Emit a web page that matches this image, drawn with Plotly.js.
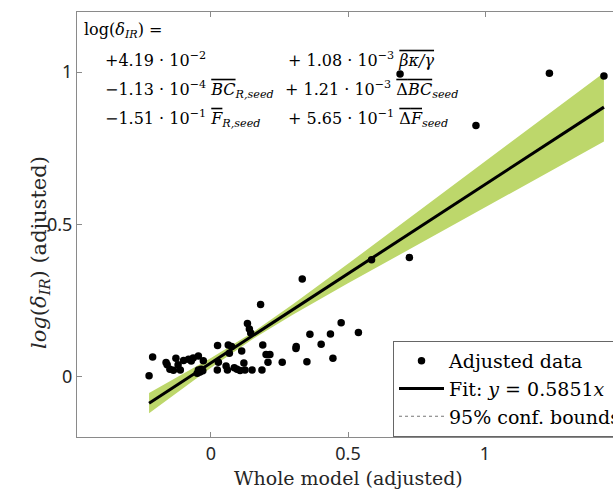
<!DOCTYPE html>
<html>
<head>
<meta charset="utf-8">
<script src="https://cdn.plot.ly/plotly-3.0.1.min.js"></script>
<style>
html,body{margin:0;padding:0;overflow:hidden;background:#fff;width:613px;height:495px;}
#chart{width:680px;height:495px;}
</style>
</head>
<body>
<div id="chart"></div>
<script>
// Adjusted data
const dataX = [-0.226,-0.213,-0.164,-0.160,-0.150,-0.137,-0.128,-0.120,-0.112,-0.100,-0.082,-0.072,-0.065,-0.046,-0.028,-0.046,-0.050,-0.040,-0.036,-0.030,
  0.024,0.027,0.023,0.055,0.060,0.063,0.075,0.067,0.085,0.095,0.106,0.112,0.120,0.124,0.133,0.140,0.145,0.150,0.181,0.189,0.186,0.201,0.215,0.208,
  0.260,0.310,0.311,0.333,0.350,0.361,0.402,0.436,0.445,0.475,0.538,0.586,0.724,0.690,0.967,1.235,1.434];
const dataY = [0.004,0.065,0.047,0.040,0.025,0.022,0.061,0.040,0.023,0.054,0.058,0.052,0.062,0.069,0.053,0.023,0.012,0.016,0.025,0.020,
  0.103,0.048,0.023,0.036,0.023,0.105,0.100,0.078,0.030,0.025,0.021,0.085,0.046,0.023,0.175,0.157,0.144,0.023,0.238,0.105,0.023,0.074,0.074,0.048,
  0.048,0.093,0.100,0.321,0.050,0.140,0.107,0.141,0.061,0.178,0.146,0.384,0.392,0.994,0.825,0.996,0.987];

// Fit line (end points)
const fitX = [-0.226, 1.434];
const fitY = [-0.086, 0.885];

// 95% confidence bounds
const bandX = [-0.226, 0, 0.15, 0.3, 0.5, 0.7, 0.9, 1.1, 1.3, 1.434];
const bandLow = [-0.119, 0.030, 0.123, 0.205, 0.307, 0.407, 0.507, 0.606, 0.705, 0.772];
const bandUp  = [-0.053, 0.062, 0.145, 0.239, 0.371, 0.505, 0.639, 0.774, 0.909, 0.998];

const xTicks = [0, 0.5, 1];
const xTickText = ['0', '0.5', '1'];
const yTicks = [0, 0.5, 1];
const yTickText = ['0', '0.5', '1'];

const serif = 'DejaVu Serif, Liberation Serif, serif';
const bandColor = '#bdd76b';

const traces = [
  {x: bandX, y: bandLow, mode: 'lines', line: {width: 0, color: bandColor}, showlegend: false, hoverinfo: 'skip'},
  {x: bandX, y: bandUp, mode: 'lines', fill: 'tonexty', fillcolor: bandColor, line: {width: 0, color: bandColor}, showlegend: false, hoverinfo: 'skip'},
  {x: dataX, y: dataY, mode: 'markers', name: 'Adjusted data', marker: {color: '#000', size: 7.5}},
  {x: fitX, y: fitY, mode: 'lines', name: 'Fit: <i>y</i> = 0.5851<i>x</i>', line: {color: '#000', width: 3}},
  {x: [null], y: [null], mode: 'lines', name: '95% conf. bounds', line: {color: '#777', width: 1, dash: 'dot'}}
];

const W = 680, L = 77, R = 619, T = 12, B = 437;
function px2x(p){ return (p - L) / (R - L); }
function py2y(p){ return (B - p) / (B - T); }
const ov = s => '<span style="text-decoration:overline">' + s + '</span>';

const eqFont = {family: serif, size: 16, color: '#000'};
const eq = [
  [82, 31, 'log(<i>δ</i><sub><i>IR</i></sub>) ='],
  [103, 60, '+4.19 · 10<sup>−2</sup>'],
  [286, 60, '+ 1.08 · 10<sup>−3</sup> ' + ov('<i>βκ/γ</i>')],
  [103, 90, '−1.13 · 10<sup>−4</sup> ' + ov('<i>BC</i>') + '<sub><i>R,seed</i></sub>'],
  [283, 90, '+ 1.21 · 10<sup>−3</sup> ' + ov('Δ<i>BC</i>') + '<sub><i>seed</i></sub>'],
  [103, 119, '−1.51 · 10<sup>−1</sup> ' + ov('<i>F</i>') + '<sub><i>R,seed</i></sub>'],
  [286, 119, '+ 5.65 · 10<sup>−1</sup> ' + ov('Δ<i>F</i>') + '<sub><i>seed</i></sub>']
];

const annotations = eq.map(e => ({
  xref: 'paper', yref: 'paper', x: px2x(e[0]), y: py2y(e[1]), xanchor: 'left', yanchor: 'middle',
  text: e[2], showarrow: false, font: eqFont
}));
annotations.push({
  xref: 'paper', yref: 'paper', x: px2x(348), y: py2y(478), xanchor: 'center', yanchor: 'middle',
  text: 'Whole model (adjusted)', showarrow: false, font: {family: serif, size: 19, color: '#262626'}
});
annotations.push({
  xref: 'paper', yref: 'paper', x: px2x(40), y: py2y(253), xanchor: 'center', yanchor: 'middle', textangle: -90,
  text: '<i>log</i>(<i>δ</i><sub><i>IR</i></sub>) (adjusted)', showarrow: false, font: {family: serif, size: 21, color: '#262626'}
});

const axisCommon = {
  showgrid: false, zeroline: false, showline: true, linecolor: '#8a8a8a', linewidth: 1,
  mirror: 'ticks', ticks: 'inside', ticklen: 5, tickcolor: '#8a8a8a', tickwidth: 1,
  tickfont: {family: 'Noto Sans, Open Sans, sans-serif', size: 18, color: '#262626'}
};

const layout = {
  width: W, height: 495,
  margin: {l: L, r: W - R, t: T, b: 495 - B},
  paper_bgcolor: '#fff', plot_bgcolor: '#fff',
  xaxis: Object.assign({}, axisCommon, {range: [-0.489, 1.489], tickvals: xTicks, ticktext: xTickText}),
  yaxis: Object.assign({}, axisCommon, {range: [-0.197, 1.197], tickvals: yTicks, ticktext: yTickText}),
  showlegend: true,
  legend: {
    x: px2x(393), y: 0, xanchor: 'left', yanchor: 'bottom',
    bgcolor: '#fff', bordercolor: '#666', borderwidth: 1,
    font: {family: serif, size: 19, color: '#000'},
    itemwidth: 45, tracegroupgap: 0, traceorder: 'normal'
  },
  annotations: annotations
};

Plotly.newPlot('chart', traces, layout, {staticPlot: true, displayModeBar: false});
</script>
</body>
</html>
